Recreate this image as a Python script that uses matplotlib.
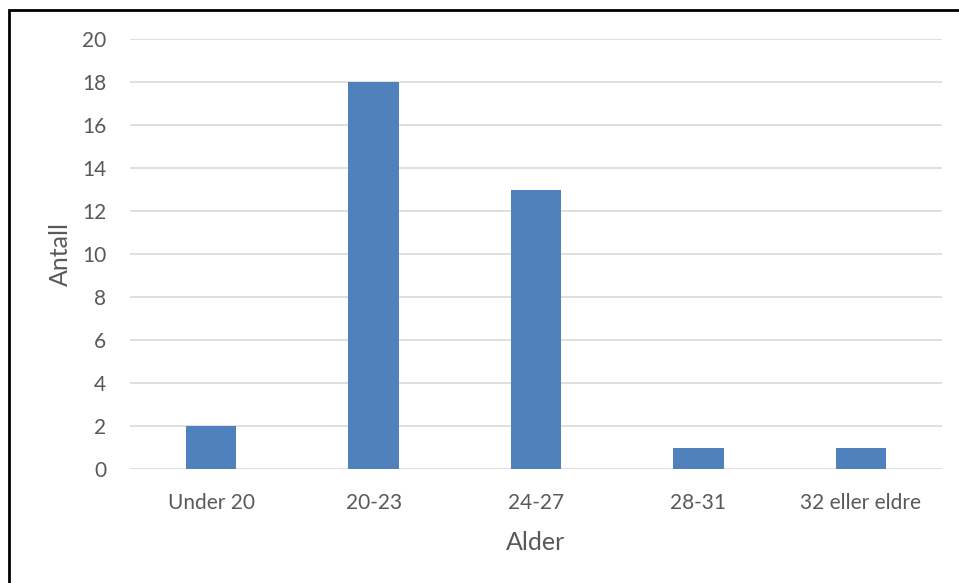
import matplotlib
matplotlib.use("Agg")
import matplotlib.pyplot as plt
from matplotlib.patches import Rectangle

categories = ["Under 20", "20-23", "24-27", "28-31", "32 eller eldre"]
counts = [2, 18, 13, 1, 1]
y_ticks = [0, 2, 4, 6, 8, 10, 12, 14, 16, 18, 20]

W, H = 959, 583
fig = plt.figure(figsize=(W / 100, H / 100), dpi=100)
plt.rcParams["font.family"] = ["Lato", "DejaVu Sans"]

# plot area in pixel coordinates
left, right = 130, 942
top, bottom = 39, 469
ax = fig.add_axes([left / W, 1 - bottom / H, (right - left) / W, (bottom - top) / H])

x = list(range(len(categories)))
ax.bar(x, counts, width=0.31, color="#4f81bd", zorder=3)
ax.set_xlim(-0.5, len(categories) - 0.5)
ax.set_ylim(0, 20)
ax.set_yticks(y_ticks)
ax.set_xticks(x)
ax.set_xticklabels(categories)
ax.grid(axis="y", color="#d9d9d9", linewidth=1.2, zorder=0)
for s in ax.spines.values():
    s.set_visible(False)
ax.tick_params(axis="both", length=0, labelsize=15, colors="#595959")
ax.tick_params(axis="x", pad=17)
ax.tick_params(axis="y", pad=17)
ax.set_xlabel("Alder", fontsize=18, color="#595959", labelpad=13)
ax.set_ylabel("Antall", fontsize=18, color="#595959", labelpad=7)

# chart frame
fig.patches.append(Rectangle((9 / W, -0.1), 1.2, 1 - 10 / H + 0.1,
                             transform=fig.transFigure, fill=False,
                             edgecolor="black", linewidth=2))

fig.savefig("out.png", dpi=100)
